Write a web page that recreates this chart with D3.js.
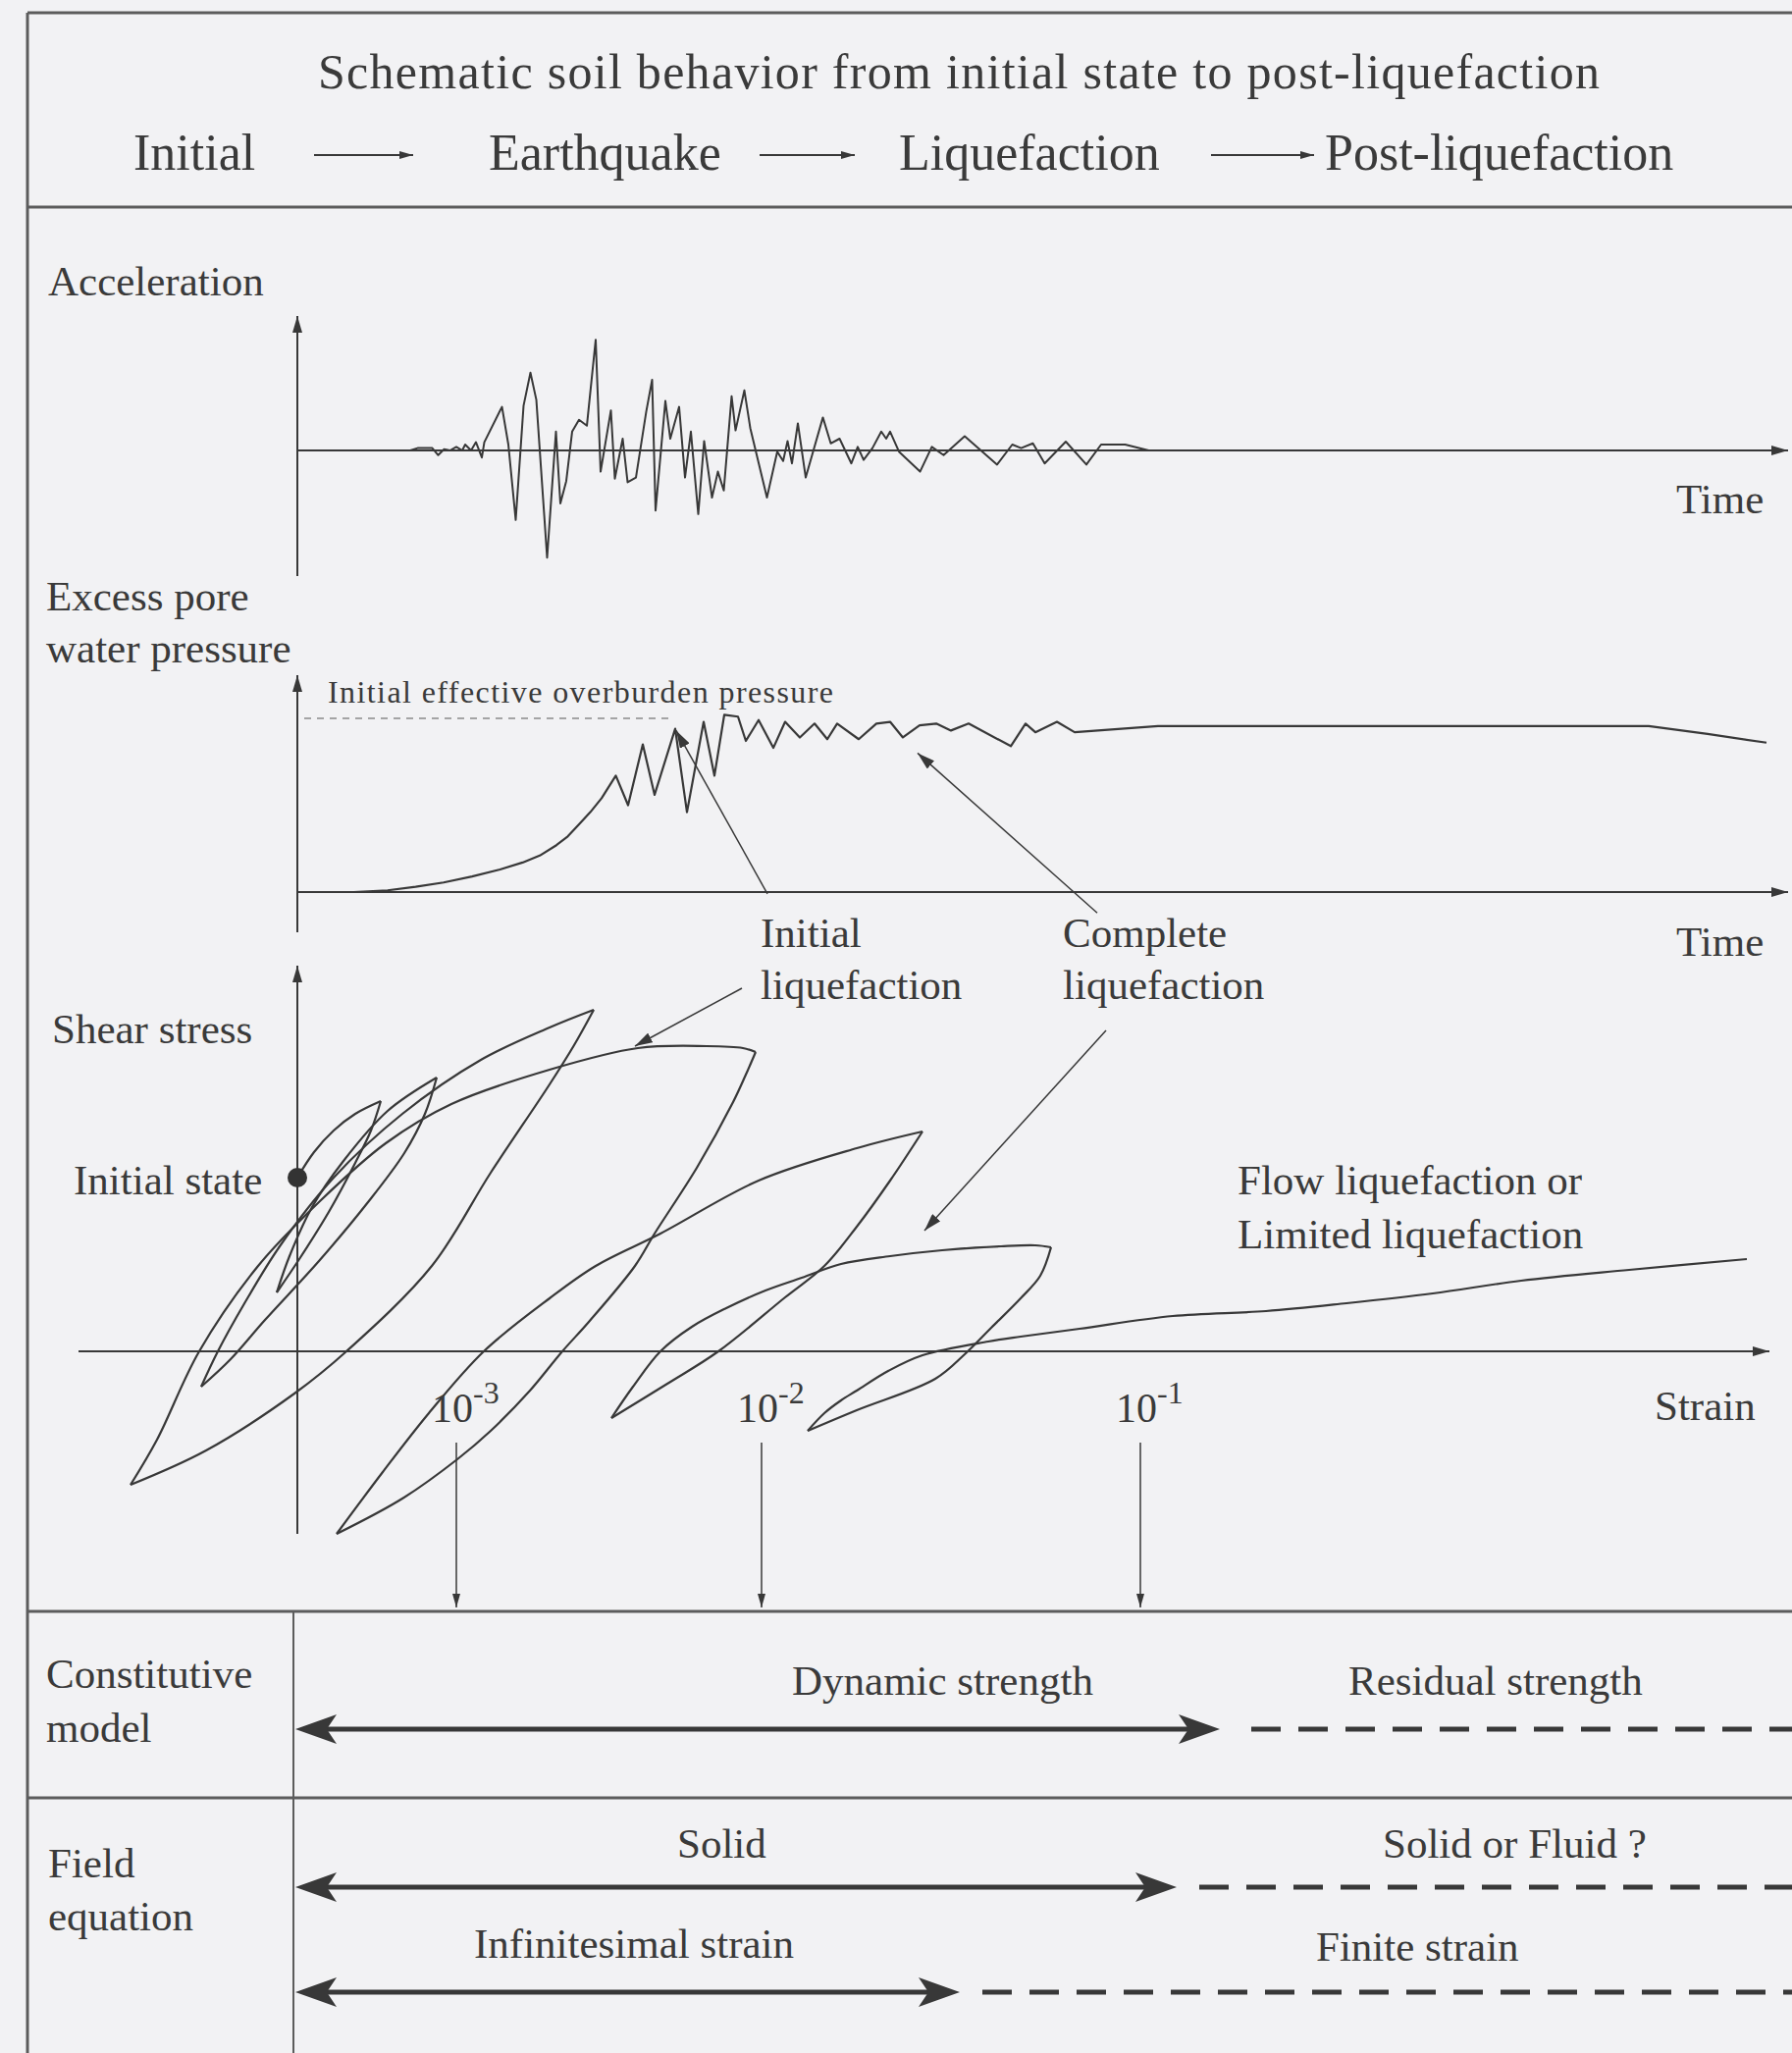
<!DOCTYPE html>
<html>
<head>
<meta charset="utf-8">
<script src="https://cdn.jsdelivr.net/npm/d3@7"></script>
<style>
  html, body { margin: 0; padding: 0; background: #f2f2f4; }
  svg { display: block; }
  text { font-family: "Liberation Serif", "Times New Roman", serif; fill: #3a3a3a; }
</style>
</head>
<body>
<script>
// ---------------- values ----------------
// Stages along the top of the diagram
const stageNames = ["Initial", "Earthquake", "Liquefaction", "Post-liquefaction"];

// Ground acceleration record (time in s, acceleration normalised to peak ~1)
const accTime = [2.3, 2.45, 2.75, 2.87, 2.99, 3.11, 3.24, 3.36, 3.42, 3.54, 3.64, 3.76, 3.81, 4.17, 4.30, 4.45,
  4.61, 4.75, 4.87, 5.09, 5.27, 5.36, 5.48, 5.60, 5.74, 5.90, 6.08, 6.18, 6.39, 6.47, 6.63, 6.73, 6.90, 7.11,
  7.23, 7.30, 7.50, 7.60, 7.78, 7.90, 8.02, 8.17, 8.29, 8.45, 8.57, 8.69, 8.85, 8.93, 9.11, 9.23, 9.57, 9.78,
  9.90, 9.99, 10.08, 10.20, 10.36, 10.51, 10.71, 10.87, 11.05, 11.29, 11.42, 11.54, 11.72, 11.90, 12.00,
  12.08, 12.26, 12.69, 12.93, 13.17, 13.60, 14.26, 14.57, 14.75, 14.99, 15.23, 15.66, 16.08, 16.38, 16.87,
  17.35, 18.7];
const accValue = [0, 0.02, 0.02, -0.04, 0.01, 0, 0.03, 0, 0.05, 0, 0.07, -0.06, 0.07, 0.37, 0.05, -0.59,
  0.38, 0.66, 0.43, -0.91, 0.16, -0.45, -0.26, 0.16, 0.26, 0.21, 0.94, -0.18, 0.34, -0.24, 0.10, -0.27, -0.23, 0.33,
  0.60, -0.51, 0.42, 0.10, 0.37, -0.23, 0.16, -0.54, 0.08, -0.40, -0.18, -0.34, 0.46, 0.17, 0.51, 0.19, -0.40, -0.01,
  -0.09, 0.08, -0.11, 0.23, -0.23, -0.01, 0.28, 0.06, 0.10, -0.11, 0.03, -0.08, 0.02, 0.16, 0.10,
  0.16, -0.01, -0.18, 0.03, -0.04, 0.12, -0.12, 0.05, 0.02, 0.06, -0.11, 0.075, -0.12, 0.05, 0.05,
  0, 0];

// Excess pore water pressure ratio (1 = initial effective overburden pressure)
const poreTime = [1.15, 1.84, 2.41, 2.98, 3.56, 4.13, 4.59, 4.94, 5.28, 5.51, 5.74, 5.97, 6.20, 6.49, 6.74, 7.04,
  7.28, 7.70, 7.94, 8.28, 8.50, 8.70, 8.98, 9.14, 9.40, 9.70, 9.94, 10.24, 10.54, 10.80, 11.00, 11.44, 11.80,
  12.08, 12.34, 12.68, 13.02, 13.32, 13.68, 14.54, 14.84, 15.04, 15.48, 15.84, 17.54, 27.54, 28.74, 29.94];
const poreRatio = [0, 0.01, 0.03, 0.055, 0.09, 0.13, 0.17, 0.21, 0.27, 0.32, 0.39, 0.46, 0.54, 0.67, 0.50, 0.85,
  0.56, 0.94, 0.46, 0.98, 0.67, 1.02, 1.01, 0.87, 0.99, 0.83, 0.98, 0.89, 0.97, 0.88, 0.97, 0.88, 0.97,
  0.98, 0.89, 0.96, 0.97, 0.93, 0.97, 0.84, 0.97, 0.92, 0.98, 0.92, 0.955, 0.955, 0.91, 0.86];

// Stress-strain path: successive loading / unloading branches [strain, shear stress]
const shearBranches = [
  [[0, 1.77], [0.17, 2.03], [0.37, 2.25], [0.59, 2.42], [0.85, 2.55]],
  [[0.85, 2.55], [0.75, 2.25], [0.59, 1.92], [0.32, 1.42], [0.02, 0.94], [-0.21, 0.60]],
  [[-0.21, 0.60], [-0.08, 0.97], [0.15, 1.47], [0.47, 1.94], [0.92, 2.45], [1.42, 2.79]],
  [[1.42, 2.79], [1.30, 2.42], [1.09, 2.02], [0.72, 1.52], [0.22, 0.92], [-0.33, 0.32], [-0.68, -0.08], [-0.98, -0.36]],
  [[-0.98, -0.36], [-0.81, 0], [-0.55, 0.47], [-0.18, 1.07], [0.37, 1.77], [1.07, 2.42], [1.87, 2.97], [2.57, 3.30], [3.02, 3.48]],
  [[3.02, 3.48], [2.82, 3.12], [2.57, 2.72], [1.97, 1.82], [1.37, 0.87], [0.50, 0], [-0.03, -0.43], [-0.93, -1.01], [-1.70, -1.36]],
  [[-1.70, -1.36], [-1.43, -0.90], [-1.00, 0], [-0.40, 0.87], [0.24, 1.54], [0.90, 2.12], [1.57, 2.52], [2.57, 2.87], [3.47, 3.09], [4.17, 3.11], [4.54, 3.09], [4.67, 3.05]],
  [[4.67, 3.05], [4.57, 2.82], [4.44, 2.54], [4.07, 1.87], [3.64, 1.20], [3.44, 0.87], [2.97, 0.30], [2.70, 0], [2.37, -0.40], [1.97, -0.81], [1.63, -1.10], [1.07, -1.50], [0.40, -1.86]],
  [[0.40, -1.86], [0.87, -1.23], [1.34, -0.63], [1.90, 0], [2.57, 0.54], [3.04, 0.87], [3.70, 1.20], [4.70, 1.74], [5.70, 2.07], [6.37, 2.24]],
  [[6.37, 2.24], [6.04, 1.74], [5.70, 1.27], [5.37, 0.87], [4.97, 0.55], [4.29, 0], [3.77, -0.33], [3.20, -0.68]],
  [[3.20, -0.68], [3.42, -0.36], [3.70, 0], [4.02, 0.25], [4.37, 0.44], [4.77, 0.62], [5.14, 0.75], [5.54, 0.89], [6.04, 0.97], [6.57, 1.03], [7.17, 1.07], [7.52, 1.08], [7.68, 1.06]],
  [[7.68, 1.06], [7.57, 0.77], [7.37, 0.54], [7.07, 0.24], [6.80, -0.03], [6.50, -0.28], [5.70, -0.60], [5.20, -0.81]],
  [[5.20, -0.81], [5.37, -0.63], [5.54, -0.50], [5.70, -0.40], [6.02, -0.20], [6.37, -0.04], [7.04, 0.10], [7.37, 0.15], [7.97, 0.23], [8.92, 0.36], [9.87, 0.41], [10.69, 0.49], [11.57, 0.59], [12.47, 0.72], [13.57, 0.83], [14.77, 0.94]]
];
const initialState = [0, 1.77];

// Strain scale marks and their exponents
const strainTicks = [1.62, 4.73, 8.59];
const strainExponents = ["-3", "-2", "-1"];

// Pointers: [from, to] in each panel's own units
const poreNotes = [[[9.58, -0.01], [7.72, 0.93]], [[16.30, -0.12], [12.64, 0.80]]];
const shearNotes = [[[4.53, 3.70], [3.44, 3.11]], [[8.24, 3.27], [6.39, 1.23]]];

// Bottom table rows
const modelLabels = ["Dynamic strength", "Residual strength"];
const fieldLabels = ["Solid", "Solid or Fluid ?", "Infinitesimal strain", "Finite strain"];

// ---------------- drawing ----------------
const W = 1826, H = 2092;
const ink = "#383838";
const frame = "#5c5c5c";

const svg = d3.select("body").append("svg").attr("width", W).attr("height", H);
svg.append("rect").attr("width", W).attr("height", H).attr("fill", "#f2f2f4");

const defs = svg.append("defs");
function addHead(id, len, wid) {
  defs.append("marker")
    .attr("id", id).attr("viewBox", "0 0 10 10").attr("refX", 10).attr("refY", 5)
    .attr("markerWidth", len).attr("markerHeight", wid)
    .attr("markerUnits", "userSpaceOnUse").attr("preserveAspectRatio", "none")
    .attr("orient", "auto")
    .append("path").attr("d", "M0,0L10,5L0,10Z").attr("fill", ink);
}
addHead("axisHead", 17, 10);
addHead("noteHead", 18, 11);
addHead("smallHead", 14, 8);

function seg(x1, y1, x2, y2, opts = {}) {
  const l = svg.append("line").attr("x1", x1).attr("y1", y1).attr("x2", x2).attr("y2", y2)
    .attr("stroke", opts.color || ink).attr("stroke-width", opts.width || 2);
  if (opts.head) l.attr("marker-end", `url(#${opts.head})`);
  if (opts.dash) l.attr("stroke-dasharray", opts.dash);
  return l;
}
function label(txt, x, y, size, opts = {}) {
  const t = svg.append("text").attr("x", x).attr("y", y).attr("font-size", size).text(txt);
  if (opts.anchor) t.attr("text-anchor", opts.anchor);
  if (opts.length) t.attr("textLength", opts.length);
  return t;
}

// ----- frame -----
seg(28, 13, W, 13, { color: frame, width: 3 });
seg(28, 211, W, 211, { color: frame, width: 3 });
seg(28, 1642, W, 1642, { color: frame, width: 3 });
seg(28, 1832, W, 1832, { color: frame, width: 3 });
seg(28, 13, 28, H, { color: frame, width: 3 });
seg(299, 1642, 299, H, { color: frame, width: 2 });

// ----- heading -----
label("Schematic soil behavior from initial state to post-liquefaction", 977, 90, 50, { anchor: "middle", length: 1306 });
const stageX = [136, 498, 916, 1350];
stageNames.forEach((s, i) => label(s, stageX[i], 173, 52));
[[320, 421], [774, 871], [1234, 1339]].forEach(([a, b]) => seg(a, 158, b, 158, { width: 2, head: "smallHead" }));

// ----- scales -----
const tX = d3.scaleLinear().domain([0, 30]).range([303, 1803]);
const accY = d3.scaleLinear().domain([-1, 1]).range([579, 339]);
const poreY = d3.scaleLinear().domain([0, 1]).range([909, 732]);
const strainX = d3.scaleLinear().domain([0, 10]).range([303, 1303]);
const stressY = d3.scaleLinear().domain([0, 3]).range([1377, 1077]);

// ----- acceleration panel -----
label("Acceleration", 49, 301, 43);
seg(tX(0), 587, tX(0), 322, { head: "axisHead" });
seg(tX(0), accY(0), 1822, accY(0), { head: "axisHead" });
label("Time", 1708, 523, 43);
svg.append("path")
  .datum(d3.zip(accTime, accValue))
  .attr("d", d3.line().x(d => tX(d[0])).y(d => accY(d[1])))
  .attr("fill", "none").attr("stroke", ink).attr("stroke-width", 2).attr("stroke-linejoin", "round");

// ----- pore pressure panel -----
label("Excess pore", 47, 622, 43);
label("water pressure", 47, 675, 43);
seg(tX(0), 950, tX(0), 688, { head: "axisHead" });
seg(tX(0), poreY(0), 1822, poreY(0), { head: "axisHead" });
label("Time", 1708, 974, 43);
seg(tX(0.14), poreY(1), tX(7.68), poreY(1), { color: "#8a8a8a", width: 1.6, dash: "7,6" });
label("Initial effective overburden pressure", 334, 716, 32, { length: 515 });
svg.append("path")
  .datum(d3.zip(poreTime, poreRatio))
  .attr("d", d3.line().x(d => tX(d[0])).y(d => poreY(d[1])))
  .attr("fill", "none").attr("stroke", ink).attr("stroke-width", 2.2).attr("stroke-linejoin", "round");

// pointers to the pore pressure history
poreNotes.forEach(([a, b]) => seg(tX(a[0]), poreY(a[1]), tX(b[0]), poreY(b[1]), { width: 1.5, head: "noteHead" }));
label("Initial", 775, 965, 43);
label("liquefaction", 775, 1018, 43);
label("Complete", 1083, 965, 43);
label("liquefaction", 1083, 1018, 43);

// ----- shear stress - strain panel -----
label("Shear stress", 53, 1063, 43);
seg(strainX(0), 1563, strainX(0), 984, { head: "axisHead" });
seg(80, stressY(0), 1803, stressY(0), { head: "axisHead" });
label("Strain", 1686, 1447, 43);

const branchLine = d3.line().x(d => strainX(d[0])).y(d => stressY(d[1])).curve(d3.curveCatmullRom.alpha(0.5));
svg.append("g").selectAll("path").data(shearBranches).join("path")
  .attr("d", branchLine)
  .attr("fill", "none").attr("stroke", ink).attr("stroke-width", 2.2).attr("stroke-linejoin", "round");

svg.append("circle").attr("cx", strainX(initialState[0])).attr("cy", stressY(initialState[1])).attr("r", 10).attr("fill", "#333");
label("Initial state", 75, 1217, 43);
label("Flow liquefaction or", 1261, 1217, 43);
label("Limited liquefaction", 1261, 1272, 43);

shearNotes.forEach(([a, b]) => seg(strainX(a[0]), stressY(a[1]), strainX(b[0]), stressY(b[1]), { width: 1.5, head: "noteHead" }));

// strain magnitudes and the drop lines into the table below
strainTicks.forEach((v, i) => {
  const x = strainX(v);
  const t = svg.append("text").attr("x", x - 25).attr("y", 1449).attr("font-size", 42);
  t.append("tspan").text("10");
  t.append("tspan").attr("dy", -19).attr("font-size", 32).text(strainExponents[i]);
  seg(x, 1470, x, 1638, { width: 1.5, head: "smallHead" });
});

// ----- constitutive model / field equation table -----
label("Constitutive", 47, 1720, 43);
label("model", 47, 1775, 43);
label("Field", 49, 1913, 43);
label("equation", 49, 1967, 43);

function rangeArrow(y, xEnd, dashStart) {
  const x0 = 301;
  seg(x0 + 30, y, xEnd - 30, y, { width: 5 });
  const head = (tip, dir) => [[tip, y], [tip + dir * 42, y - 15], [tip + dir * 32, y], [tip + dir * 42, y + 15]];
  [head(x0, 1), head(xEnd, -1)].forEach(p =>
    svg.append("polygon").attr("points", p.map(q => q.join(",")).join(" ")).attr("fill", ink));
  seg(dashStart, y, W, y, { width: 5, dash: "30,18" });
}

label(modelLabels[0], 807, 1727, 43);
label(modelLabels[1], 1374, 1727, 43);
rangeArrow(1762, 1243, 1275);

label(fieldLabels[0], 690, 1893, 43);
label(fieldLabels[1], 1409, 1893, 43);
rangeArrow(1923, 1199, 1222);

label(fieldLabels[2], 483, 1995, 43);
label(fieldLabels[3], 1341, 1998, 43);
rangeArrow(2030, 978, 1001);
</script>
</body>
</html>
